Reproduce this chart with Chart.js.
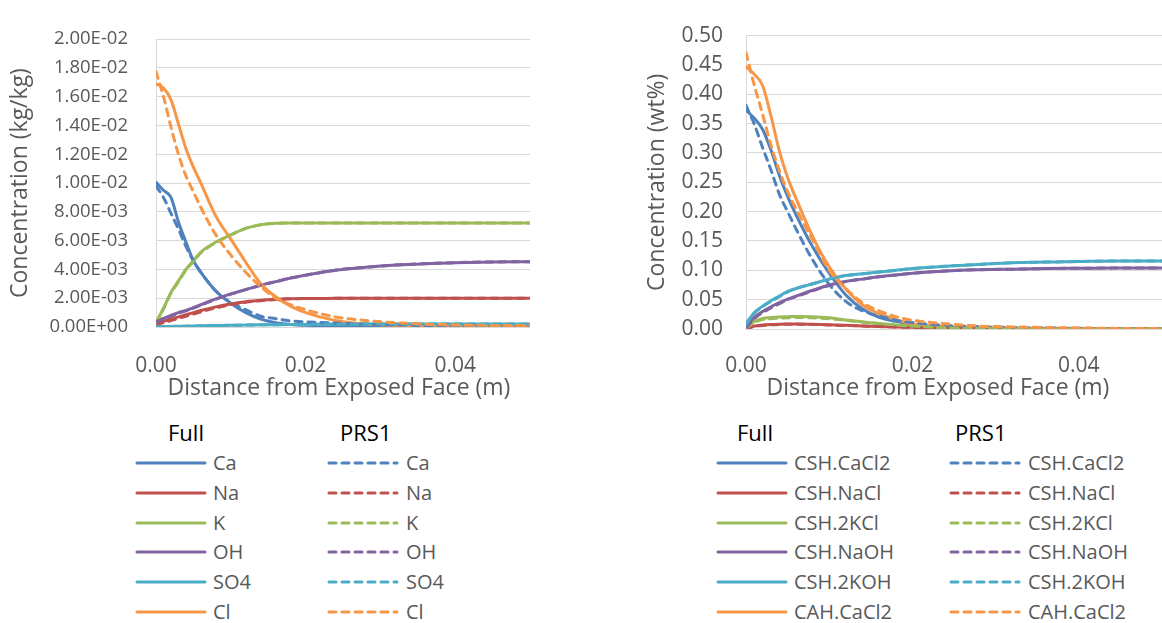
<!DOCTYPE html>
<html>
<head>
<meta charset="utf-8">
<script src="https://cdn.jsdelivr.net/npm/chart.js@4.4.0/dist/chart.umd.min.js"></script>
<style>
  body { margin: 0; background: #fff; width: 1162px; height: 623px; overflow: hidden; position: relative; font-family: 'Open Sans', sans-serif; }
  canvas { position: absolute; top: 0; }
  .lg { position: absolute; white-space: nowrap; line-height: 28px; height: 28px; }
  .hd { font-size: 22px; color: #000; }
  .lb { font-size: 20px; color: #595959; }
  svg.ln { position: absolute; }
</style>
</head>
<body>
<canvas id="left" width="580" height="410" style="left:0"></canvas>
<canvas id="right" width="582" height="410" style="left:580px"></canvas>
<div id="legends"></div>
<script>
// distance from exposed face (m)
const distance = [0, 0.001, 0.002, 0.003, 0.004, 0.005, 0.006, 0.008, 0.010, 0.012, 0.014,
  0.016, 0.018, 0.020, 0.024, 0.028, 0.032, 0.036, 0.040, 0.045, 0.050];
const xTicks = [0, 0.02, 0.04];

// left chart: ions in pore solution (kg/kg)
const ionNames = ['Ca', 'Na', 'K', 'OH', 'SO4', 'Cl'];
const caFull  = [10.05e-3, 9.5e-3, 9.0e-3, 7.3e-3, 5.9e-3, 4.6e-3, 3.8e-3, 2.5e-3, 1.65e-3, 1.0e-3, 0.55e-3, 0.3e-3, 0.18e-3, 0.12e-3, 0.06e-3, 0.03e-3, 0.02e-3, 0.01e-3, 0.01e-3, 0.01e-3, 0.01e-3];
const caPrs1  = [9.8e-3, 9.0e-3, 7.9e-3, 6.8e-3, 5.6e-3, 4.6e-3, 3.8e-3, 2.5e-3, 1.7e-3, 1.2e-3, 0.75e-3, 0.58e-3, 0.43e-3, 0.36e-3, 0.27e-3, 0.2e-3, 0.15e-3, 0.1e-3, 0.07e-3, 0.05e-3, 0.04e-3];
const naFull  = [0.25e-3, 0.4e-3, 0.55e-3, 0.7e-3, 0.85e-3, 1.0e-3, 1.15e-3, 1.4e-3, 1.6e-3, 1.75e-3, 1.85e-3, 1.92e-3, 1.96e-3, 1.98e-3, 1.99e-3, 2.0e-3, 2.0e-3, 2.0e-3, 2.0e-3, 2.0e-3, 2.0e-3];
const naPrs1  = [0.2e-3, 0.3e-3, 0.45e-3, 0.6e-3, 0.75e-3, 0.9e-3, 1.05e-3, 1.33e-3, 1.55e-3, 1.72e-3, 1.83e-3, 1.91e-3, 1.96e-3, 1.98e-3, 1.99e-3, 2.0e-3, 2.0e-3, 2.0e-3, 2.0e-3, 2.0e-3, 2.0e-3];
const kFull   = [0.3e-3, 1.3e-3, 2.4e-3, 3.2e-3, 4.0e-3, 4.6e-3, 5.2e-3, 5.9e-3, 6.4e-3, 6.85e-3, 7.1e-3, 7.2e-3, 7.22e-3, 7.23e-3, 7.23e-3, 7.23e-3, 7.23e-3, 7.23e-3, 7.23e-3, 7.23e-3, 7.23e-3];
const kPrs1   = [0.3e-3, 1.25e-3, 2.35e-3, 3.15e-3, 3.95e-3, 4.55e-3, 5.15e-3, 5.85e-3, 6.4e-3, 6.85e-3, 7.1e-3, 7.2e-3, 7.22e-3, 7.23e-3, 7.23e-3, 7.23e-3, 7.23e-3, 7.23e-3, 7.23e-3, 7.23e-3, 7.23e-3];
const ohFull  = [0.4e-3, 0.6e-3, 0.8e-3, 1.0e-3, 1.15e-3, 1.35e-3, 1.55e-3, 1.95e-3, 2.3e-3, 2.6e-3, 2.9e-3, 3.15e-3, 3.4e-3, 3.6e-3, 3.95e-3, 4.15e-3, 4.3e-3, 4.4e-3, 4.47e-3, 4.52e-3, 4.53e-3];
const ohPrs1  = [0.35e-3, 0.55e-3, 0.75e-3, 0.95e-3, 1.12e-3, 1.32e-3, 1.52e-3, 1.93e-3, 2.28e-3, 2.6e-3, 2.9e-3, 3.15e-3, 3.4e-3, 3.6e-3, 3.95e-3, 4.15e-3, 4.3e-3, 4.4e-3, 4.47e-3, 4.52e-3, 4.53e-3];
const so4Full = [0.02e-3, 0.03e-3, 0.04e-3, 0.05e-3, 0.06e-3, 0.07e-3, 0.08e-3, 0.1e-3, 0.12e-3, 0.135e-3, 0.15e-3, 0.16e-3, 0.17e-3, 0.18e-3, 0.19e-3, 0.2e-3, 0.2e-3, 0.2e-3, 0.2e-3, 0.2e-3, 0.2e-3];
const so4Prs1 = [0.02e-3, 0.03e-3, 0.04e-3, 0.05e-3, 0.06e-3, 0.07e-3, 0.08e-3, 0.1e-3, 0.12e-3, 0.135e-3, 0.15e-3, 0.16e-3, 0.17e-3, 0.18e-3, 0.19e-3, 0.2e-3, 0.2e-3, 0.2e-3, 0.2e-3, 0.2e-3, 0.2e-3];
const clFull  = [16.9e-3, 16.6e-3, 15.8e-3, 14.1e-3, 12.4e-3, 11.1e-3, 10.0e-3, 7.7e-3, 6.1e-3, 4.5e-3, 3.0e-3, 2.1e-3, 1.45e-3, 1.0e-3, 0.45e-3, 0.2e-3, 0.12e-3, 0.1e-3, 0.08e-3, 0.07e-3, 0.07e-3];
const clPrs1  = [17.75e-3, 16.0e-3, 13.9e-3, 12.0e-3, 10.5e-3, 9.4e-3, 8.3e-3, 6.4e-3, 5.0e-3, 3.8e-3, 2.8e-3, 2.0e-3, 1.55e-3, 1.2e-3, 0.7e-3, 0.45e-3, 0.3e-3, 0.2e-3, 0.14e-3, 0.11e-3, 0.1e-3];
const leftYTicks = [0, 0.002, 0.004, 0.006, 0.008, 0.010, 0.012, 0.014, 0.016, 0.018, 0.020];

// right chart: bound chlorides / alkalis (wt%)
const phaseNames = ['CSH.CaCl2', 'CSH.NaCl', 'CSH.2KCl', 'CSH.NaOH', 'CSH.2KOH', 'CAH.CaCl2'];
const cshCaCl2Full = [0.373, 0.359, 0.340, 0.305, 0.262, 0.226, 0.195, 0.140, 0.095, 0.058, 0.034, 0.020, 0.013, 0.008, 0.003, 0.0015, 0.001, 0.0005, 0.0005, 0.0005, 0.0005];
const cshCaCl2Prs1 = [0.381, 0.349, 0.309, 0.271, 0.230, 0.200, 0.171, 0.118, 0.076, 0.047, 0.031, 0.022, 0.015, 0.011, 0.006, 0.004, 0.0025, 0.0018, 0.0012, 0.0008, 0.0005];
const cshNaClFull  = [0, 0.005, 0.0068, 0.0078, 0.0083, 0.0085, 0.0085, 0.008, 0.0072, 0.0062, 0.0052, 0.0043, 0.0035, 0.0028, 0.0018, 0.001, 0.0006, 0.0004, 0.0002, 0.0002, 0.0002];
const cshNaClPrs1  = [0, 0.0045, 0.006, 0.007, 0.0077, 0.008, 0.008, 0.0077, 0.007, 0.006, 0.0051, 0.0042, 0.0035, 0.0028, 0.0018, 0.001, 0.0006, 0.0004, 0.0002, 0.0002, 0.0002];
const csh2KClFull  = [0.001, 0.013, 0.018, 0.0195, 0.0205, 0.021, 0.0215, 0.021, 0.019, 0.0155, 0.012, 0.0095, 0.007, 0.005, 0.002, 0.001, 0.0005, 0.0002, 0.0002, 0.0002, 0.0002];
const csh2KClPrs1  = [0.001, 0.011, 0.016, 0.0175, 0.0185, 0.019, 0.0195, 0.019, 0.0175, 0.0148, 0.0118, 0.0093, 0.0069, 0.005, 0.002, 0.001, 0.0005, 0.0002, 0.0002, 0.0002, 0.0002];
const cshNaOHFull  = [0.003, 0.020, 0.030, 0.038, 0.045, 0.051, 0.056, 0.066, 0.075, 0.081, 0.085, 0.089, 0.092, 0.095, 0.099, 0.101, 0.102, 0.103, 0.1035, 0.104, 0.104];
const cshNaOHPrs1  = [0.002, 0.018, 0.028, 0.036, 0.043, 0.050, 0.055, 0.065, 0.074, 0.081, 0.085, 0.089, 0.092, 0.095, 0.099, 0.101, 0.102, 0.103, 0.1035, 0.104, 0.104];
const csh2KOHFull  = [0.009, 0.028, 0.039, 0.048, 0.056, 0.064, 0.069, 0.077, 0.085, 0.091, 0.094, 0.097, 0.100, 0.103, 0.107, 0.110, 0.113, 0.114, 0.115, 0.116, 0.116];
const csh2KOHPrs1  = [0.008, 0.027, 0.038, 0.047, 0.055, 0.063, 0.069, 0.077, 0.085, 0.091, 0.094, 0.097, 0.100, 0.103, 0.107, 0.110, 0.113, 0.114, 0.115, 0.116, 0.116];
const cahCaCl2Full = [0.447, 0.434, 0.415, 0.363, 0.304, 0.258, 0.223, 0.158, 0.106, 0.068, 0.041, 0.026, 0.016, 0.009, 0.004, 0.002, 0.001, 0.001, 0.001, 0.001, 0.001];
const cahCaCl2Prs1 = [0.471, 0.415, 0.366, 0.313, 0.270, 0.234, 0.205, 0.152, 0.100, 0.069, 0.045, 0.031, 0.021, 0.015, 0.009, 0.005, 0.0035, 0.0025, 0.0018, 0.001, 0.0006];
const rightYTicks = [0, 0.05, 0.10, 0.15, 0.20, 0.25, 0.30, 0.35, 0.40, 0.45, 0.50];

const colors = ['#4F81BD', '#C0504D', '#9BBB59', '#8064A2', '#4BACC6', '#F79646'];
const dash = [7, 6];

Chart.defaults.font.family = "'Open Sans', sans-serif";
Chart.defaults.color = '#595959';

function sci(v) {
  const parts = Number(v).toExponential(2).split('e');
  const n = parseInt(parts[1], 10);
  return parts[0] + 'E' + (n < 0 ? '-' : '+') + String(Math.abs(n)).padStart(2, '0');
}

// x axis title, drawn a little off the plot centre like the Excel original
const xTitlePlugin = {
  id: 'xTitle',
  afterDraw(chart, args, opts) {
    const { ctx, chartArea } = chart;
    ctx.save();
    ctx.font = "23px 'Open Sans', sans-serif";
    ctx.fillStyle = '#595959';
    ctx.textAlign = 'center';
    ctx.textBaseline = 'middle';
    ctx.fillText(opts.text, (chartArea.left + chartArea.right) / 2 + opts.dx, opts.y);
    ctx.restore();
  }
};

function buildDatasets(names, full, prs1) {
  const sets = [];
  const total = names.length * 2;
  names.forEach((name, i) => {
    sets.push({ label: name + ' Full', data: distance.map((d, k) => ({ x: d, y: full[i][k] })),
      borderColor: colors[i], borderDash: [] });
  });
  names.forEach((name, i) => {
    sets.push({ label: name + ' PRS1', data: distance.map((d, k) => ({ x: d, y: prs1[i][k] })),
      borderColor: colors[i], borderDash: dash });
  });
  return sets.map((s, idx) => Object.assign(s, {
    borderWidth: 3, pointRadius: 0, cubicInterpolationMode: 'monotone',
    borderCapStyle: 'round', borderJoinStyle: 'round', fill: false, order: total - idx
  }));
}

function makeChart(id, cfg) {
  const ctx = document.getElementById(id).getContext('2d');
  return new Chart(ctx, {
    type: 'line',
    data: { datasets: buildDatasets(cfg.names, cfg.full, cfg.prs1) },
    plugins: [xTitlePlugin],
    options: {
      responsive: false,
      animation: false,
      devicePixelRatio: 1,
      layout: { padding: { left: 0, right: cfg.padRight, top: 15, bottom: 0 } },
      plugins: {
        legend: { display: false },
        tooltip: { enabled: false },
        xTitle: { text: 'Distance from Exposed Face (m)', dx: cfg.titleDx, y: 388 }
      },
      scales: {
        x: {
          type: 'linear', min: 0, max: 0.05,
          afterBuildTicks: s => { s.ticks = xTicks.map(v => ({ value: v })); },
          afterFit: s => { s.height = cfg.xHeight; },
          grid: { display: false },
          border: { display: false },
          ticks: { color: '#595959', font: { size: 21 }, padding: cfg.xPad, maxRotation: 0, autoSkip: false,
            callback: v => Number(v).toFixed(2) },
          title: { display: false }
        },
        y: {
          type: 'linear', min: 0, max: cfg.yMax,
          afterBuildTicks: s => { s.ticks = cfg.yTicks.map(v => ({ value: v })); },
          afterFit: s => { s.width = cfg.yWidth; },
          grid: { color: '#D9D9D9', lineWidth: 1, drawTicks: false },
          border: { display: true, color: '#D9D9D9', width: 1 },
          ticks: { color: '#595959', font: { size: cfg.yFont }, padding: cfg.yPad, autoSkip: false,
            callback: cfg.yFormat },
          title: { display: true, text: cfg.yTitle, color: '#595959',
            font: { size: 23 }, padding: { top: cfg.yTitlePad, bottom: 0 } }
        }
      }
    }
  });
}

makeChart('left', {
  names: ionNames,
  full: [caFull, naFull, kFull, ohFull, so4Full, clFull],
  prs1: [caPrs1, naPrs1, kPrs1, ohPrs1, so4Prs1, clPrs1],
  yMax: 0.02, yTicks: leftYTicks, yFormat: v => sci(v), yTitle: 'Concentration (kg/kg)',
  padRight: 50, xHeight: 83, xPad: 18, yWidth: 156, yFont: 18.5, yPad: 28, yTitlePad: 7, titleDx: -4
});

makeChart('right', {
  names: phaseNames,
  full: [cshCaCl2Full, cshNaClFull, csh2KClFull, cshNaOHFull, csh2KOHFull, cahCaCl2Full],
  prs1: [cshCaCl2Prs1, cshNaClPrs1, csh2KClPrs1, cshNaOHPrs1, csh2KOHPrs1, cahCaCl2Prs1],
  yMax: 0.5, yTicks: rightYTicks, yFormat: v => Number(v).toFixed(2), yTitle: 'Concentration (wt%)',
  padRight: 0, xHeight: 81, xPad: 16, yWidth: 166, yFont: 21, yPad: 23, yTitlePad: 64, titleDx: -16
});

// legends (two columns: Full = solid, PRS1 = dashed)
function lineSample(x, y, color, dashed) {
  const ns = 'http://www.w3.org/2000/svg';
  const svg = document.createElementNS(ns, 'svg');
  svg.setAttribute('class', 'ln');
  svg.setAttribute('width', 72);
  svg.setAttribute('height', 8);
  svg.style.left = (x - 2) + 'px';
  svg.style.top = (y - 4) + 'px';
  const l = document.createElementNS(ns, 'line');
  l.setAttribute('x1', 2); l.setAttribute('x2', 70);
  l.setAttribute('y1', 4); l.setAttribute('y2', 4);
  l.setAttribute('stroke', color);
  l.setAttribute('stroke-width', 3);
  l.setAttribute('stroke-linecap', 'round');
  if (dashed) l.setAttribute('stroke-dasharray', dash.join(' '));
  svg.appendChild(l);
  return svg;
}

function text(cls, str, x, y) {
  const d = document.createElement('div');
  d.className = 'lg ' + cls;
  d.textContent = str;
  d.style.left = x + 'px';
  d.style.top = (y - 14) + 'px';
  return d;
}

function buildLegend(names, p) {
  const root = document.getElementById('legends');
  root.appendChild(text('hd', 'Full', p.fullX, 432));
  root.appendChild(text('hd', 'PRS1', p.prsX, 432));
  names.forEach((n, i) => {
    const y = 463 + i * 29.8;
    root.appendChild(lineSample(p.solidX, y, colors[i], false));
    root.appendChild(text('lb', n, p.solidX + 76, y));
    root.appendChild(lineSample(p.dashX, y, colors[i], true));
    root.appendChild(text('lb', n, p.dashX + 77, y));
  });
}

buildLegend(ionNames, { fullX: 168, prsX: 340, solidX: 137, dashX: 329 });
buildLegend(phaseNames, { fullX: 737, prsX: 955, solidX: 718, dashX: 951 });
</script>
</body>
</html>
